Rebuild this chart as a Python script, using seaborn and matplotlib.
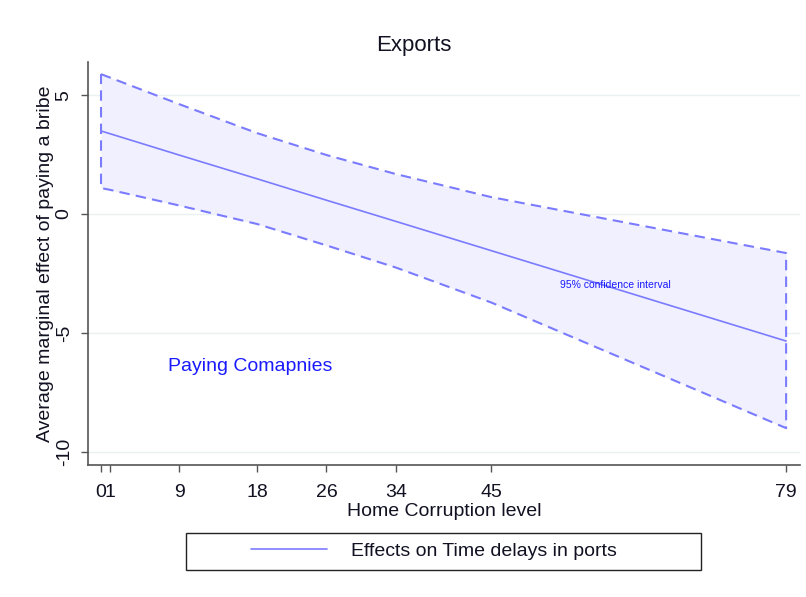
#!/usr/bin/env python3
# Marginal effect of paying a bribe on exports, by home corruption level

import numpy as np
import pandas as pd
import seaborn as sns
import matplotlib
matplotlib.use("Agg")
import matplotlib.pyplot as plt
from matplotlib.patches import Rectangle

# values
corruption = [0, 1, 9, 18, 26, 34, 45, 79]
effect = [3.49, 3.38, 2.48, 1.48, 0.58, -0.31, -1.54, -5.34]
ci_upper = [5.88, 5.74, 4.62, 3.40, 2.48, 1.68, 0.71, -1.64]
ci_lower = [1.09, 1.02, 0.36, -0.42, -1.32, -2.25, -3.72, -9.00]
y_ticks = [-10, -5, 0, 5]

sns.set_theme(style="white")
plt.rcParams["font.family"] = ["Liberation Sans", "DejaVu Sans"]

LINE = "#7b7bff"
FILL = "#f0f0ff"
TXT = "#111122"

df = pd.DataFrame({"corruption": corruption, "effect": effect,
                   "upper": ci_upper, "lower": ci_lower})

fig = plt.figure(figsize=(8.06, 5.97), dpi=100)
ax = fig.add_axes([88 / 806, 1 - 465 / 597, 712 / 806, 403 / 597])

for yv in y_ticks:
    ax.axhline(yv, color="#eaf1f2", lw=1.0, zorder=0)

# confidence band with dashed outline
ax.fill_between(df["corruption"], df["lower"], df["upper"], color=FILL, lw=0, zorder=1)
outline_x = list(df["corruption"]) + list(df["corruption"][::-1]) + [corruption[0]]
outline_y = list(df["upper"]) + list(df["lower"][::-1]) + [ci_upper[0]]
ax.plot(outline_x, outline_y, color=LINE, lw=1.5, dashes=(5, 3), zorder=2)

sns.lineplot(data=df, x="corruption", y="effect", ax=ax, color=LINE, lw=1.2,
             label="Effects on Time delays in ports", legend=False, zorder=3)

ax.set_xlim(-1.5, 80.6)
ax.set_ylim(-10.55, 6.39)
ax.set_xticks(corruption)
ax.set_xticklabels([str(v) for v in corruption])
ax.set_yticks(y_ticks)
ax.set_yticklabels([str(v) for v in y_ticks], rotation=90, va="center")
ax.tick_params(axis="both", direction="out", length=5, width=1, color="#555555",
               labelsize=14, labelcolor=TXT, pad=6, bottom=True, left=True)
ax.tick_params(axis="x", pad=9)

for side in ["top", "right"]:
    ax.spines[side].set_visible(False)
for side in ["left", "bottom"]:
    ax.spines[side].set_color("#555555")
    ax.spines[side].set_linewidth(1.2)

ax.set_xlabel("Home Corruption level", fontsize=14, color=TXT, labelpad=1)
ax.set_ylabel("Average marginal effect of paying a bribe", fontsize=14, color=TXT, labelpad=1)

ax.text(7.7, -6.39, "Paying Comapnies", fontsize=14, color="#1a1aff", va="center", ha="left")
ax.text(52.9, -2.98, "95% confidence interval", fontsize=7.5, color="#1a1aff", va="center", ha="left")

fig.text(414 / 806, 1 - 45 / 597, "Exports", fontsize=16, color=TXT, ha="center", va="center")

# legend below the plot, in a box
handles, labels = ax.get_legend_handles_labels()
fig.legend(handles, labels, loc="center", bbox_to_anchor=(434 / 806, 1 - 551 / 597),
           frameon=False, fontsize=14, handlelength=3.9, handletextpad=1.2,
           labelcolor=TXT)
fig.patches.append(Rectangle((186 / 806, 1 - 570 / 597), 515 / 806, 37 / 597,
                             transform=fig.transFigure, fill=False,
                             edgecolor="#222222", lw=1.0))

fig.savefig("out.png", dpi=100)
